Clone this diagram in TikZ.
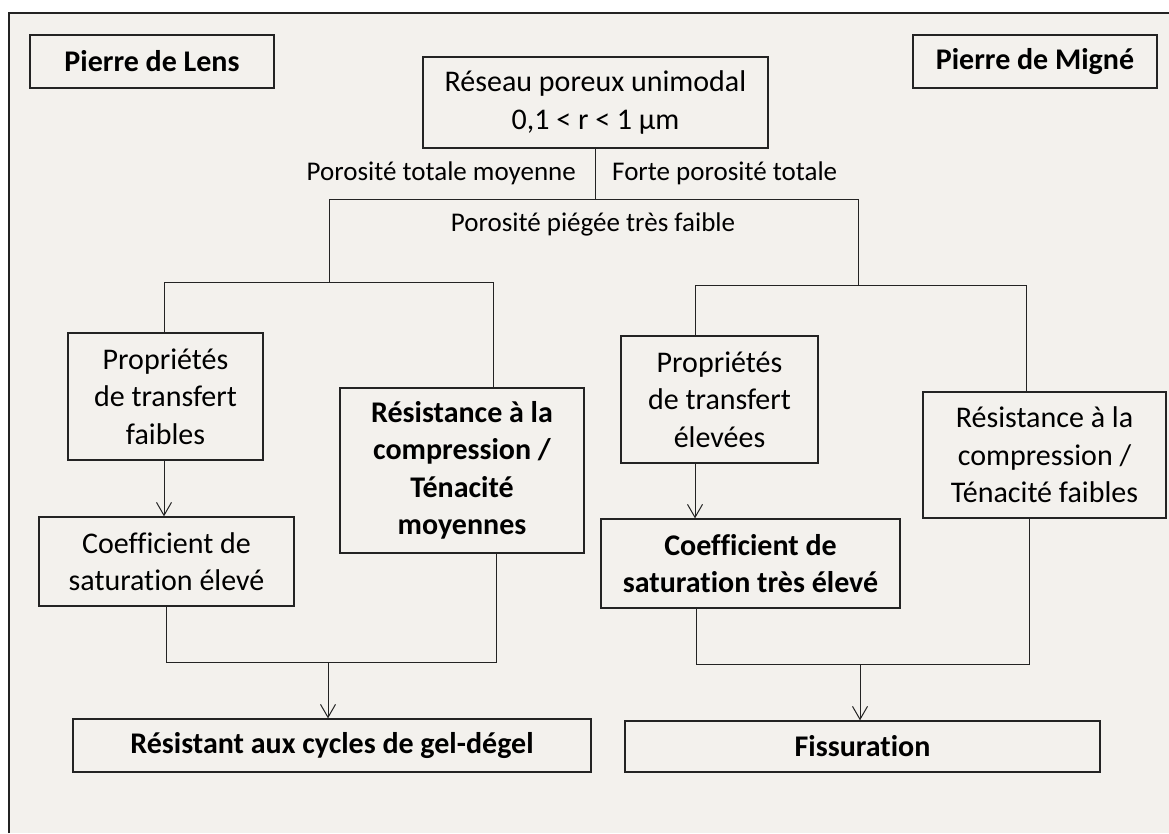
\documentclass[tikz,border=0pt]{standalone}
\usepackage{fontspec}
\setmainfont{Carlito}[Ligatures=NoCommon]
\usetikzlibrary{arrows.meta}
\definecolor{paper}{RGB}{243,241,237}
\definecolor{ink}{RGB}{35,35,35}
\newcommand\boxfont{\fontsize{30}{37.5}\selectfont}
\newcommand\lblfont{\fontsize{27}{32}\selectfont}

\begin{document}
\begin{tikzpicture}[x=1pt, y=-1pt,
    every node/.style={font=\boxfont, text=black},
    frame/.style={draw=ink, line width=1.3pt, align=center, inner sep=0pt},
    link/.style={draw=ink, line width=1pt},
    tip/.style={link, -{Straight Barb[length=13pt,width=15pt]}},
    lbl/.style={font=\lblfont, inner sep=0pt}]

  \useasboundingbox (0,0) rectangle (1169,833);
  \fill[white] (0,0) rectangle (1169,833);
  \fill[paper] (9,13) rectangle (1169,833);
  \draw[ink, line width=1.3pt] (9,833) -- (9,13) -- (1169,13);

  % the two stones
  \node[frame, font=\boxfont\bfseries, minimum width=244, minimum height=53] (lens) at (152,61.5) {Pierre de Lens};
  \node[frame, font=\boxfont\bfseries, minimum width=244, minimum height=53] (migne) at (1035,61.5) {Pierre de Migné};

  % common porous network
  \node[frame, minimum width=345, minimum height=91] (reseau) at (595.5,102.5) {Réseau poreux unimodal\\0,1 < r < 1 µm};
  \node[lbl, anchor=east] (totL) at (576,173) {Porosité totale moyenne};
  \node[lbl, anchor=west] (totR) at (612,173) {Forte porosité totale};
  \node[lbl] (piege) at (593,224) {Porosité piégée très faible};

  % Lens branch
  \node[frame, minimum width=195, minimum height=127] (propL) at (165.5,396.5) {Propriétés\\de transfert\\faibles};
  \node[frame, minimum width=255, minimum height=89] (coefL) at (166.5,561.5) {Coefficient de\\saturation élevé};
  \node[frame, font=\boxfont\bfseries, minimum width=244, minimum height=165] (resL) at (462,470.5) {Résistance à la\\compression /\\Ténacité\\moyennes};
  \node[frame, font=\boxfont\bfseries, minimum width=518, minimum height=53] (resist) at (332,745.5) {Résistant aux cycles de gel-dégel};

  % Migne branch
  \node[frame, minimum width=197, minimum height=127] (propR) at (719.5,399.5) {Propriétés\\de transfert\\élevées};
  \node[frame, font=\boxfont\bfseries, minimum width=299, minimum height=89] (coefR) at (750.5,563.5) {Coefficient de\\saturation très élevé};
  \node[frame, minimum width=243, minimum height=126] (resR) at (1044.5,455) {Résistance à la\\compression /\\Ténacité faibles};
  \node[frame, font=\boxfont\bfseries, minimum width=475, minimum height=51] (fiss) at (862.5,746.5) {Fissuration};

  % split under the network
  \coordinate (split) at (595.5,199);
  \coordinate (topL) at (329,199);
  \coordinate (topR) at (858,199);
  \coordinate (brL1) at (164,282);
  \coordinate (brL2) at (493,282);
  \coordinate (brR1) at (695,285);
  \coordinate (brR2) at (1026,285);
  \draw[link] (reseau.south) -- (split);
  \draw[link] (topL |- brL1) -- (topL) -- (topR) -- (topR |- brR1);
  \draw[link] (propL.north -| brL1) -- (brL1) -- (brL2) -- (brL2 |- resL.north);
  \draw[link] (propR.north -| brR1) -- (brR1) -- (brR2) -- (brR2 |- resR.north);

  \draw[tip] (propL.south -| brL1) -- (coefL.north -| brL1);
  \draw[tip] (propR.south -| brR1) -- (coefR.north -| brR1);

  % merges towards the outcome
  \coordinate (jL1) at (166,662);
  \coordinate (jL2) at (496,662);
  \coordinate (mergeL) at (328,662);
  \coordinate (jR1) at (696,664);
  \coordinate (jR2) at (1029,664);
  \coordinate (mergeR) at (860,664);
  \draw[link] (coefL.south -| jL1) -- (jL1) -- (jL2) -- (jL2 |- resL.south);
  \draw[link] (coefR.south -| jR1) -- (jR1) -- (jR2) -- (jR2 |- resR.south);
  \draw[tip] (mergeL) -- (mergeL |- resist.north);
  \draw[tip] (mergeR) -- (mergeR |- fiss.north);
\end{tikzpicture}
\end{document}
